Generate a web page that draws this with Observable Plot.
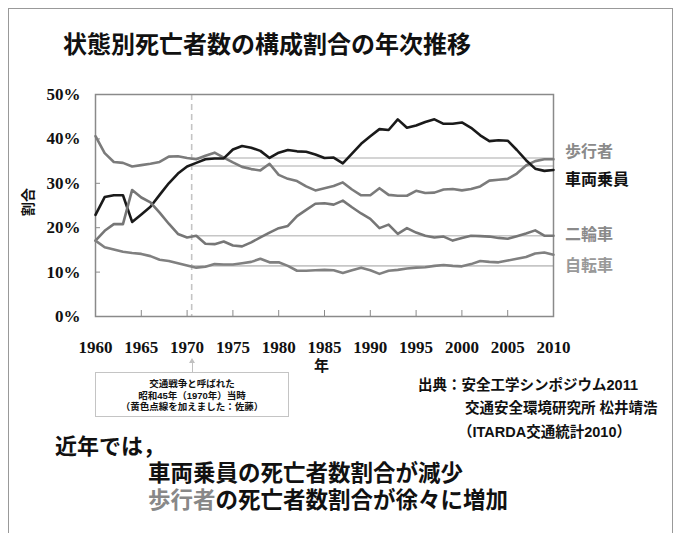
<!DOCTYPE html>
<html><head><meta charset="utf-8">
<script src="https://cdn.jsdelivr.net/npm/d3@7"></script>
<script src="https://cdn.jsdelivr.net/npm/@observablehq/plot@0.6"></script>
<style>
body{margin:0;background:#fff;}
#page{position:relative;width:682px;height:533px;overflow:hidden;font-family:"Liberation Sans","Noto Sans CJK JP",sans-serif;font-weight:700;color:#111;}
#border{position:absolute;left:8px;top:8px;width:663px;height:600px;border:1.5px solid #999;}
.t{position:absolute;white-space:nowrap;}
.c{position:absolute;white-space:nowrap;left:95px;width:194px;text-align:center;font-size:9.5px;line-height:11px;height:11px;}
#chart{position:absolute;left:0;top:0;}
</style></head>
<body><div id="page">
<div id="border"></div>
<div id="chart"></div>
<div class="t" style="left:63px;top:30px;font-size:24px;line-height:30px;">状態別死亡者数の構成割合の年次推移</div>
<div class="t" style="left:314px;top:356px;font-size:15px;line-height:20px;">年</div>
<div class="t" style="left:28px;top:202px;font-size:14px;line-height:16px;transform:translate(-50%,-50%) rotate(-90deg);">割合</div>
<div id="labels"></div>
<div style="position:absolute;left:191.5px;top:362px;width:1px;height:10px;background:#c0c0c0;"></div>
<div style="position:absolute;left:189px;top:358px;width:0;height:0;border-left:3px solid transparent;border-right:3px solid transparent;border-bottom:5px solid #c0c0c0;"></div>
<div class="t" style="left:95px;top:372px;width:194px;height:45px;border:1px solid #c4c4c4;box-sizing:border-box;"></div>
<div class="c" style="top:378px;">交通戦争と呼ばれた</div>
<div class="c" style="top:389.5px;">昭和45年（1970年）当時</div>
<div class="c" style="top:401px;">（黄色点線を加えました：佐藤）</div>
<div class="t" style="left:418px;top:375px;font-size:14.5px;line-height:20px;">出典：安全工学シンポジウム2011</div>
<div class="t" style="left:465px;top:398px;font-size:14.5px;line-height:20px;">交通安全環境研究所 松井靖浩</div>
<div class="t" style="left:458px;top:422px;font-size:14.5px;line-height:20px;">（ITARDA交通統計2010）</div>
<div class="t" style="left:55px;top:434px;font-size:22px;line-height:26px;height:26px;">近年では，</div>
<div class="t" style="left:148px;top:460px;font-size:22.5px;line-height:27px;height:27px;">車両乗員の死亡者数割合が減少</div>
<div class="t" style="left:148px;top:487px;font-size:22.5px;line-height:27px;height:27px;color:#888;">歩行者</div>
<div class="t" style="left:215.5px;top:487px;font-size:22.5px;line-height:27px;height:27px;">の死亡者数割合が徐々に増加</div>
</div>
<script>
const years = d3.range(1960, 2011);
const seriesNames = ["歩行者", "車両乗員", "二輪車", "自転車"];
const pedestrian = [40.6,36.8,34.8,34.6,33.8,34.1,34.4,34.8,36.0,36.1,35.7,35.4,36.2,36.9,35.8,34.7,33.7,33.2,32.9,34.4,31.9,31.0,30.5,29.3,28.4,28.9,29.4,30.2,28.6,27.3,27.3,28.9,27.4,27.2,27.2,28.3,27.8,27.9,28.6,28.7,28.4,28.7,29.3,30.6,30.8,31.0,32.2,34.0,35.0,35.4,35.4];
const vehicle = [22.9,26.9,27.3,27.3,21.3,23.0,24.7,27.4,30.0,32.2,33.8,34.6,35.4,35.6,35.6,37.6,38.4,38.0,37.3,35.7,36.9,37.5,37.2,37.1,36.5,35.7,35.8,34.5,36.7,38.9,40.6,42.2,42.0,44.4,42.5,43.0,43.8,44.4,43.4,43.4,43.7,42.5,40.8,39.5,39.7,39.6,37.5,35.2,33.3,32.8,33.0];
const twoWheel = [17.1,19.3,20.8,20.8,28.5,26.8,25.7,23.4,20.9,18.6,17.8,18.2,16.4,16.3,16.9,16.0,15.8,16.7,17.8,18.9,19.9,20.4,22.6,24.0,25.4,25.5,25.2,26.1,24.6,23.2,22.0,19.9,20.7,18.6,19.9,18.9,18.2,17.8,18.0,17.1,17.7,18.2,18.1,18.0,17.7,17.5,18.1,18.7,19.4,18.2,18.2];
const bicycle = [17.1,15.6,15.1,14.6,14.3,14.1,13.6,12.8,12.5,12.0,11.5,11.0,11.2,11.8,11.7,11.7,12.0,12.3,13.0,12.2,12.2,11.4,10.3,10.3,10.4,10.5,10.4,9.8,10.4,11.0,10.4,9.6,10.3,10.5,10.8,11.0,11.1,11.4,11.6,11.4,11.3,11.8,12.5,12.3,12.2,12.6,13.0,13.4,14.2,14.4,13.9];
const seriesValues = [pedestrian, vehicle, twoWheel, bicycle];
const seriesColors = ["#7b7b7b", "#1a1a1a", "#767676", "#808080"];
const labelColors = ["#8a8a8a", "#111111", "#8a8a8a", "#999999"];
const markerYear = 1970.5;
const refLevels = [35.7, 33.9, 18.2, 11.4];
const xTicks = [1960,1965,1970,1975,1980,1985,1990,1995,2000,2005,2010];
const yTicks = [0,10,20,30,40,50];

const rows = seriesNames.flatMap((name, i) => years.map((yr, j) => ({name, year: yr, value: seriesValues[i][j]})));

const chart = Plot.plot({
  width: 682, height: 370,
  marginLeft: 95, marginRight: 129, marginTop: 94, marginBottom: 54,
  style: {fontFamily: "'Liberation Serif', 'DejaVu Serif', serif", fontSize: "17px", fontWeight: "bold", background: "transparent", color: "#111"},
  x: {domain: [1960, 2010], label: null},
  y: {domain: [0, 50], label: null},
  color: {domain: seriesNames, range: seriesColors},
  marks: [
    Plot.ruleY(refLevels, {y: d => d, x1: markerYear, x2: 2010, stroke: "#c6c6c6", strokeWidth: 1.6}),
    Plot.ruleX([markerYear], {x: d => d, stroke: "#c4c4c4", strokeWidth: 1.6, strokeDasharray: "6,4"}),
    Plot.frame({stroke: "#8a8a8a", strokeWidth: 1.5}),
    Plot.axisX({ticks: xTicks, tickFormat: d => String(d), tickSize: -6, tickPadding: 30, stroke: "#8a8a8a", fill: "#111"}),
    Plot.axisY({ticks: yTicks, tickFormat: d => d + "%", tickSize: -5, tickPadding: 20, stroke: "#8a8a8a", fill: "#111"}),
    Plot.line(rows, {x: "year", y: "value", z: "name", stroke: "name", strokeWidth: 2.6, strokeLinejoin: "round"})
  ]
});
document.getElementById("chart").appendChild(chart);

const labelTops = [152, 180, 235, 266];
const lab = document.getElementById("labels");
seriesNames.forEach((n, i) => {
  const d = document.createElement("div");
  d.className = "t";
  d.style.cssText = `left:565px;top:${labelTops[i] - 11}px;font-size:16px;line-height:22px;height:22px;color:${labelColors[i]};`;
  d.textContent = n;
  lab.appendChild(d);
});
</script>
</body></html>
